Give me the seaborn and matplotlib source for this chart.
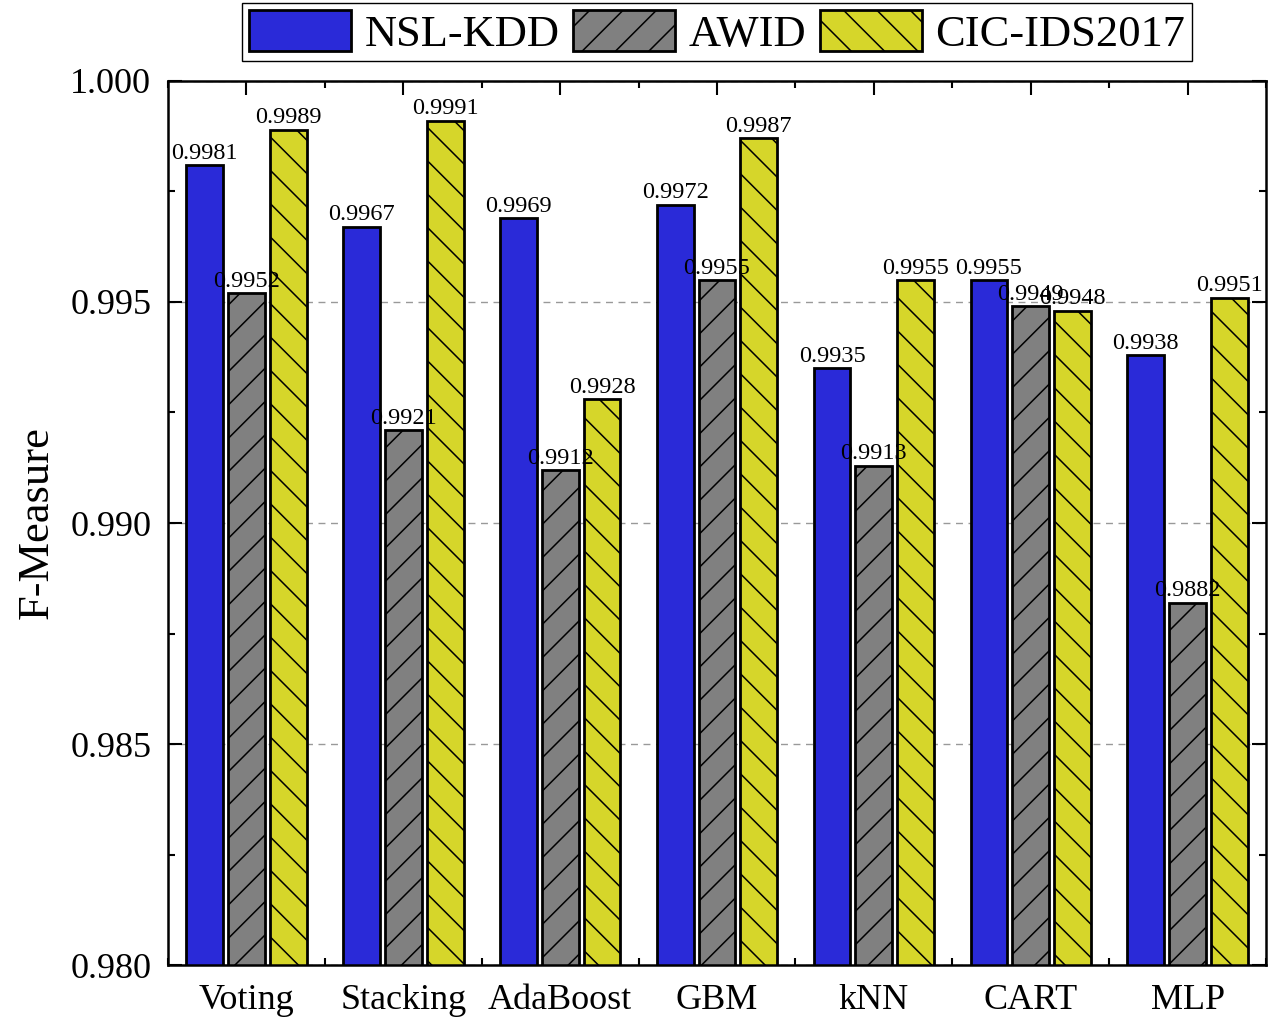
import numpy as np
import pandas as pd
import seaborn as sns
import matplotlib.pyplot as plt
from matplotlib.ticker import MultipleLocator, FormatStrFormatter

# Values
models = ["Voting", "Stacking", "AdaBoost", "GBM", "kNN", "CART", "MLP"]
datasets = ["NSL-KDD", "AWID", "CIC-IDS2017"]
nsl_kdd = [0.9981, 0.9967, 0.9969, 0.9972, 0.9935, 0.9955, 0.9938]
awid = [0.9952, 0.9921, 0.9912, 0.9955, 0.9913, 0.9949, 0.9882]
cic_ids2017 = [0.9989, 0.9991, 0.9928, 0.9987, 0.9955, 0.9948, 0.9951]

colors = ["#2a2ad8", "#808080", "#d6d62a"]
hatches = ["", "/", "\\"]


def setup_style():
    sns.set_style("ticks")
    plt.rcParams.update({
        'font.family': 'serif',
        'font.serif': ['Liberation Serif', 'DejaVu Serif'],
        'axes.linewidth': 1.8,
        'axes.edgecolor': 'black',
        'axes.labelcolor': 'black',
        'text.color': 'black',
        'xtick.color': 'black',
        'ytick.color': 'black',
        'hatch.linewidth': 1.1,
        'xtick.direction': 'in',
        'ytick.direction': 'in',
    })


def build_frame():
    rows = []
    for name, vals in zip(datasets, [nsl_kdd, awid, cic_ids2017]):
        for m, v in zip(models, vals):
            rows.append({"model": m, "dataset": name, "f": v})
    return pd.DataFrame(rows)


def main():
    setup_style()
    df = build_frame()

    fig, ax = plt.subplots(figsize=(12.71, 10.25), dpi=100)
    fig.subplots_adjust(left=0.1322, right=0.9961, bottom=0.0585, top=0.921)

    sns.barplot(data=df, x="model", y="f", hue="dataset", order=models,
                hue_order=datasets, palette=colors, saturation=1,
                width=0.8, gap=0.12, errorbar=None, edgecolor="black",
                linewidth=2.0, legend=False, ax=ax)

    for cont, h in zip(ax.containers, hatches):
        for bar in cont:
            bar.set_hatch(h)
            bar.set_edgecolor("black")
        ax.bar_label(cont, fmt="%.4f", padding=1, fontsize=17.5)

    ax.set_ylim(0.980, 1.000)
    ax.set_xlim(-0.5, len(models) - 0.5)
    ax.yaxis.set_major_locator(MultipleLocator(0.005))
    ax.yaxis.set_minor_locator(MultipleLocator(0.0025))
    ax.yaxis.set_major_formatter(FormatStrFormatter("%.3f"))
    ax.xaxis.set_minor_locator(MultipleLocator(1.0, offset=0.5))

    ax.tick_params(which="both", direction="in", top=True, right=True,
                   width=1.5, color="black")
    ax.tick_params(which="major", length=10, labelsize=26)
    ax.tick_params(which="minor", length=5)
    ax.tick_params(axis="y", which="major", pad=12)
    ax.tick_params(axis="x", which="major", pad=14)

    ax.yaxis.grid(True, which="major", linestyle=(0, (5, 4)),
                  color="#999999", linewidth=1.0)
    ax.set_axisbelow(True)

    ax.set_xlabel("")
    ax.set_ylabel("F-Measure", fontsize=32, labelpad=10)

    ax.legend(handles=ax.containers, labels=datasets, loc="upper center",
              bbox_to_anchor=(0.5, 1.088), ncol=3, fontsize=32,
              frameon=True, fancybox=False, edgecolor="black",
              framealpha=1, handlelength=2.3, handleheight=1.06,
              handletextpad=0.3, columnspacing=0.3, borderpad=0.15,
              borderaxespad=0)

    fig.savefig("out.png", dpi=100)
    plt.close(fig)


if __name__ == "__main__":
    main()
